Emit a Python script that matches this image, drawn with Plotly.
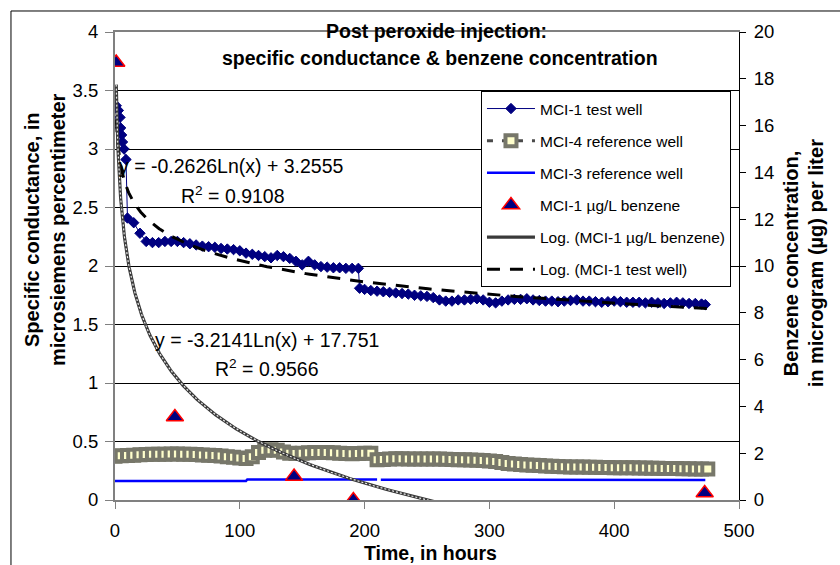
import numpy as np
import plotly.graph_objects as go

# ---------------- data ----------------
# MCI-1 test well, specific conductance (left axis)
well1_t = [1, 2.7, 4, 4.5, 5.3, 6, 7.2, 8.8,
           10, 15, 20, 25, 30, 35, 40, 45, 50, 55, 60, 65, 70, 75, 80, 85, 90, 95,
           100, 105, 110, 115, 120, 125, 130, 135, 140, 145, 150, 155, 160, 165, 170,
           175, 180, 185, 190, 195, 196, 200, 205, 210, 215, 220, 225, 230, 235, 240,
           245, 250, 255, 260, 265, 270, 275, 280, 285, 290, 295, 300, 305, 310, 315,
           320, 325, 330, 335, 340, 345, 350, 355, 360, 365, 370, 375, 380, 385, 390,
           395, 400, 405, 410, 415, 420, 425, 430, 435, 440, 445, 450, 455, 460, 465,
           470, 473]
well1_v = [3.37, 3.33, 3.27, 3.18, 3.12, 3.06, 3.00, 2.91,
           2.41, 2.37, 2.28, 2.21, 2.20, 2.20, 2.21, 2.21, 2.21, 2.20, 2.19, 2.18, 2.17,
           2.165, 2.16, 2.15, 2.145, 2.14, 2.13, 2.11, 2.10, 2.09, 2.08, 2.07, 2.09,
           2.08, 2.065, 2.04, 2.01, 2.04, 2.01, 1.995, 1.99, 1.985, 1.985, 1.98, 1.98,
           1.98, 1.81, 1.80, 1.79, 1.785, 1.78, 1.775, 1.77, 1.765, 1.76, 1.75, 1.745,
           1.74, 1.73, 1.71, 1.70, 1.70, 1.71, 1.71, 1.715, 1.72, 1.71, 1.69, 1.685,
           1.70, 1.71, 1.715, 1.715, 1.72, 1.71, 1.705, 1.70, 1.70, 1.695, 1.70, 1.705,
           1.71, 1.70, 1.70, 1.695, 1.69, 1.695, 1.70, 1.695, 1.69, 1.69, 1.69, 1.685,
           1.69, 1.685, 1.68, 1.685, 1.69, 1.685, 1.68, 1.68, 1.675, 1.67]

# MCI-4 reference well (left axis)
well4_t = list(range(0, 480, 5))
well4_v = [0.375, 0.378, 0.380, 0.383, 0.386, 0.388, 0.390, 0.391, 0.392, 0.393,
           0.393, 0.392, 0.390, 0.388, 0.385, 0.383, 0.380, 0.376, 0.370, 0.365,
           0.360, 0.355, 0.370, 0.405, 0.425, 0.430, 0.425, 0.410, 0.400, 0.398,
           0.400, 0.403, 0.405, 0.405, 0.405, 0.403, 0.400, 0.398, 0.396, 0.397,
           0.400, 0.400, 0.345, 0.347, 0.350, 0.352, 0.352, 0.351, 0.350, 0.350,
           0.350, 0.350, 0.350, 0.349, 0.347, 0.345, 0.343, 0.342, 0.340, 0.337,
           0.333, 0.328, 0.320, 0.313, 0.308, 0.303, 0.300, 0.297, 0.294, 0.291,
           0.289, 0.287, 0.285, 0.283, 0.282, 0.281, 0.280, 0.279, 0.278, 0.277,
           0.276, 0.276, 0.275, 0.275, 0.274, 0.273, 0.272, 0.271, 0.270, 0.270,
           0.269, 0.268, 0.267, 0.266, 0.265, 0.265]

# MCI-3 reference well (left axis); None marks the data gap
well3_t = [0, 50, 105, 106, 160, 210, 211.5, 213, 300, 400, 473]
well3_v = [0.162, 0.162, 0.163, 0.175, 0.175, 0.175, None, 0.174, 0.173, 0.172, 0.171]

# MCI-1 benzene concentration, ug/L (right axis)
benz_t = [1, 48, 143.5, 191, 472.5]
benz_v = [18.7, 3.55, 1.0, 0.0, 0.3]

# Excel logarithmic trendline coefficients (as printed on the chart)
fit_well1 = (-0.2626, 3.2555, 0.9108)
fit_benz = (-3.2141, 17.751, 0.9566)

x_ticks = [0, 100, 200, 300, 400, 500]
y1_ticks = [0, 0.5, 1, 1.5, 2, 2.5, 3, 3.5, 4]
y2_ticks = [0, 2, 4, 6, 8, 10, 12, 14, 16, 18, 20]

# ---------------- figure ----------------
FONT = "Liberation Sans, Arial, sans-serif"
trend_x = np.geomspace(1, 475, 300)

fig = go.Figure()

fig.add_trace(go.Scatter(
    x=well1_t, y=well1_v, name="MCI-1 test well", mode="lines+markers",
    line=dict(color="#000080", width=1),
    marker=dict(symbol="diamond", size=8, color="#000080",
                line=dict(color="#000080", width=1)),
    legendgroup="g1", legendrank=1))

fig.add_trace(go.Scatter(
    x=well4_t, y=well4_v, name="MCI-4 reference well", mode="lines+markers",
    line=dict(color="#4a4a4a", width=3, dash="6px,9px"),
    marker=dict(symbol="square", size=11, color="#FFFFCC",
                line=dict(color="#77776a", width=4)),
    legendgroup="g2", legendrank=2))

fig.add_trace(go.Scatter(
    x=well3_t, y=well3_v, name="MCI-3 reference well", mode="lines",
    line=dict(color="#0000FF", width=2.5), connectgaps=False,
    legendgroup="g3", legendrank=3))

fig.add_trace(go.Scatter(
    x=trend_x, y=fit_well1[0] * np.log(trend_x) + fit_well1[1],
    name="Log. (MCI-1 test well)", mode="lines",
    line=dict(color="#000000", width=3, dash="13px,10px"),
    legendgroup="g6", legendrank=6))

fig.add_trace(go.Scatter(
    x=benz_t, y=benz_v, name="MCI-1 µg/L benzene", mode="markers", yaxis="y2",
    marker=dict(symbol="triangle-up", size=15, color="#000080",
                line=dict(color="#FF0000", width=1.5)),
    legendgroup="g4", legendrank=4))

fig.add_trace(go.Scatter(
    x=trend_x, y=fit_benz[0] * np.log(trend_x) + fit_benz[1],
    name="Log. (MCI-1 µg/L benzene)", mode="lines", yaxis="y2",
    line=dict(color="#3a3a3a", width=3.2),
    legendgroup="g5", legendrank=5))
fig.add_trace(go.Scatter(
    x=trend_x, y=fit_benz[0] * np.log(trend_x) + fit_benz[1],
    mode="lines", yaxis="y2", showlegend=False, hoverinfo="skip",
    line=dict(color="#e8e8e8", width=1.2, dash="2px,2px"),
    legendgroup="g5"))


def eq_text(a, b):
    sign = "+" if b >= 0 else "-"
    return f"y = {a:.4f}Ln(x) {sign} {abs(b):g}"


def ann(text, x, y, size, xref="paper", yref="paper", angle=0):
    return dict(text=text, x=x, y=y, xref=xref, yref=yref, showarrow=False,
                textangle=angle, font=dict(size=size, family=FONT, color="black"),
                xanchor="center", yanchor="middle")


annotations = [
    ann("<b>Post peroxide injection:</b>", 0.515, 1.002, 19.5),
    ann("<b>specific conductance & benzene concentration</b>", 0.521, 0.944, 19.5),
    ann("<b>Specific conductance, in</b>", -0.133, 0.577, 20, angle=-90),
    ann("<b>microsiemens percentimeter</b>", -0.0913, 0.577, 20, angle=-90),
    ann("<b>Benzene concentration,</b>", 1.0835, 0.506, 20, angle=-90),
    ann("<b>in microgram (µg) per liter</b>", 1.1236, 0.506, 20, angle=-90),
    ann("<b>Time, in hours</b>", 0.505, -0.113, 19.5),
    ann(eq_text(fit_well1[0], fit_well1[1]), 93.6, 2.855, 19.5, "x", "y"),
    ann(f"R<sup>2</sup> = {fit_well1[2]:.4f}", 94.4, 2.607, 19.5, "x", "y"),
    ann(eq_text(fit_benz[0], fit_benz[1]), 121.6, 1.368, 19.5, "x", "y"),
    ann(f"R<sup>2</sup> = {fit_benz[2]:.4f}", 122, 1.128, 19.5, "x", "y"),
]

fig.update_layout(
    width=840, height=565,
    margin=dict(l=115, r=101, t=32, b=65),
    paper_bgcolor="white", plot_bgcolor="white",
    font=dict(family=FONT, color="black", size=18),
    showlegend=True,
    legend=dict(x=0.5865, y=0.874, xanchor="left", yanchor="top",
                bgcolor="white", bordercolor="#000000", borderwidth=1,
                font=dict(size=15.5, family=FONT, color="black"),
                traceorder="grouped", tracegroupgap=9, itemwidth=48),
    xaxis=dict(range=[0, 500], tickvals=x_ticks, showgrid=False, zeroline=False,
               showline=True, linecolor="#808080", linewidth=2, mirror=True,
               ticks="outside", ticklen=7, tickcolor="#808080", tickwidth=1,
               tickfont=dict(size=18.5), ticklabelstandoff=6),
    yaxis=dict(range=[0, 4], tickvals=y1_ticks, showgrid=True, gridcolor="#000000",
               gridwidth=1, zeroline=False, showline=True, linecolor="#808080",
               linewidth=2, ticks="outside", ticklen=8, tickcolor="#808080",
               tickfont=dict(size=18.5), ticklabelstandoff=3),
    yaxis2=dict(range=[0, 20], tickvals=y2_ticks, overlaying="y", side="right",
                showgrid=False, zeroline=False, showline=True, linecolor="#000000",
                linewidth=1, ticks="outside", ticklen=6, tickcolor="#000000",
                tickfont=dict(size=18.5), ticklabelstandoff=4),
    annotations=annotations,
    shapes=[dict(type="rect", xref="paper", yref="paper", x0=-0.1667, y0=-1.0,
                 x1=2.0, y1=1.0449, line=dict(color="black", width=1),
                 layer="below")],
)

fig.write_html("out.html")
